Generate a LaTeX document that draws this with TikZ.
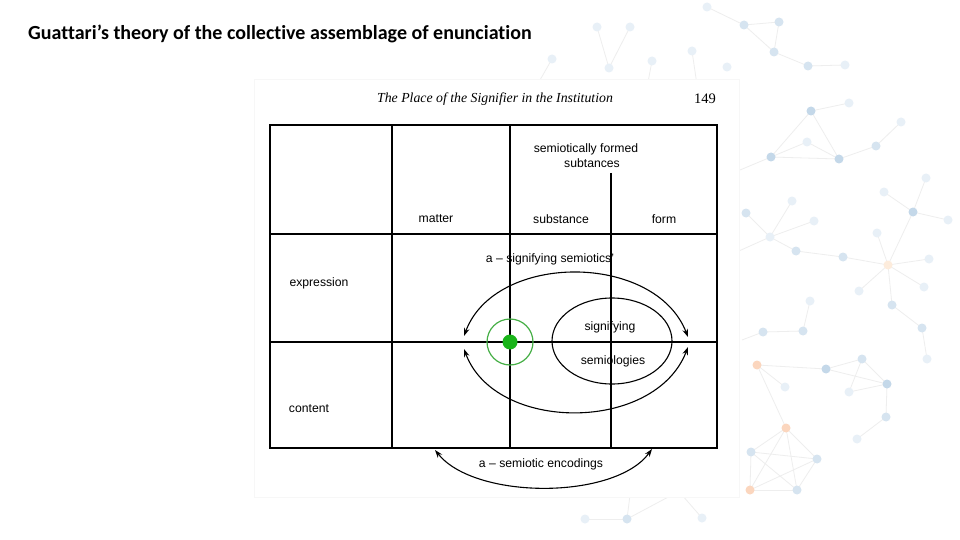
\documentclass[tikz,border=0pt]{standalone}
\usepackage{fontspec}
\setmainfont{Liberation Sans}
\newfontfamily\titlefont[Ligatures={NoCommon}]{Carlito}
\newfontfamily\bookfont{Liberation Serif}
\usetikzlibrary{arrows.meta}
\definecolor{nl1}{RGB}{232,240,247}
\definecolor{nl2}{RGB}{214,228,240}
\definecolor{nl3}{RGB}{196,216,233}
\definecolor{no1}{RGB}{253,236,220}
\definecolor{no2}{RGB}{251,214,190}
\definecolor{nedge}{RGB}{238,238,238}
\definecolor{ringgreen}{RGB}{70,175,70}
\definecolor{dotgreen}{RGB}{25,180,25}
\tikzset{
  netdot/.style={circle, inner sep=0pt, minimum size=9pt, fill=#1},
  netedge/.style={draw=nedge, line width=0.8pt},
  grid/.style={line width=1.8pt, black},
  lbl/.style={inner sep=0pt, font=\fontsize{12.2}{13}\selectfont},
  arc/.style={line width=1.1pt, {Stealth[length=8pt,width=5.5pt]}-{Stealth[length=8pt,width=5.5pt]}},
}
\begin{document}
\begin{tikzpicture}[x=1pt,y=-1pt]
\useasboundingbox (0,0) rectangle (960,540);
\fill[white] (0,0) rectangle (960,540);
% background network
\foreach \n/\x/\y/\c in {
 a1/744/25/nl2, a2/779/22/nl2, a3/774/52/nl2, a4/808/66/nl2, a5/845/65/nl1,
 b1/811/111/nl3, b2/849/103/nl1, b3/807/142/nl1, b4/771/157/nl3, b5/839/159/nl3, b6/876/146/nl2, b7/901/122/nl1,
 c1/926/178/nl1, c2/884/192/nl1, c3/913/212/nl3, c4/948/220/nl1, c5/888/265/no1, c6/877/233/nl1, c7/929/259/nl1,
 d1/792/201/nl1, d2/746/213/nl2, d3/814/221/nl1, d4/770/237/nl1, d5/796/251/nl2, d6/843/257/nl2,
 e1/859/291/nl1, e2/924/287/nl1, e3/892/305/nl2, e4/922/328/nl2, e5/927/359/nl1,
 f1/810/301/nl1, f2/803/331/nl2, f3/763/332/nl2, f4/757/365/no2, f5/826/369/nl3, f6/862/359/nl2, f7/849/392/nl1, f8/887/384/nl3, f9/886/417/nl2, f10/857/439/nl1, f11/785/387/nl1,
 g1/786/428/no2, g2/751/452/nl2, g3/817/459/nl2, g4/750/490/no2, g5/797/490/nl2,
 t1/597/27/nl1, t2/630/27/nl1, t3/609/68/nl1, t4/552/59/nl1, t5/652/61/nl1, t6/692/51/nl1, t7/707/7/nl1, t8/727/67/nl1,
 h1/585/519/nl1, h2/627/519/nl2, h3/702/518/nl1}
 \coordinate (\n) at (\x,\y);
\coordinate (x1) at (740,170);
\coordinate (x2) at (730,255);
\coordinate (x3) at (742,340);
\coordinate (x4) at (540,80);
\coordinate (x5) at (648,82);
\coordinate (x6) at (697,85);
\coordinate (x7) at (630,495);
\coordinate (x8) at (672,495);
\coordinate (x9) at (682,495);
\foreach \p/\q in {a1/a2, a2/a3, a3/a1, a3/a4, a4/a5, t7/a1,
 b1/b2, b1/b4, b1/b5, b3/b4, b3/b5, b4/b5, b5/b6, b6/b7,
 c3/c1, c3/c2, c3/c4, c3/c5, c5/c6, c5/c7,
 d4/d1, d4/d2, d4/d3, d4/d5, d5/d6, d6/c5,
 c5/e1, c5/e2, c5/e3, e3/e4, e4/e5,
 f1/f2, f2/f3, f4/f5, f4/f11, f4/g1, f5/f6, f5/f8, f6/f7, f7/f8, f6/f8, f8/f9, f9/f10,
 g1/g2, g1/g3, g1/g4, g1/g5, g2/g3, g2/g4, g2/g5, g4/g3, g4/g5, g5/g3,
 t1/t3, t2/t3, h1/h2, b4/x1, d4/x2, f3/x3, t4/x4, t5/x5, t6/x6, h2/x7, h2/x8, h3/x9}
 \draw[netedge] (\p) -- (\q);
\foreach \n/\x/\y/\c in {
 a1/744/25/nl2, a2/779/22/nl2, a3/774/52/nl2, a4/808/66/nl2, a5/845/65/nl1,
 b1/811/111/nl3, b2/849/103/nl1, b3/807/142/nl1, b4/771/157/nl3, b5/839/159/nl3, b6/876/146/nl2, b7/901/122/nl1,
 c1/926/178/nl1, c2/884/192/nl1, c3/913/212/nl3, c4/948/220/nl1, c5/888/265/no1, c6/877/233/nl1, c7/929/259/nl1,
 d1/792/201/nl1, d2/746/213/nl2, d3/814/221/nl1, d4/770/237/nl1, d5/796/251/nl2, d6/843/257/nl2,
 e1/859/291/nl1, e2/924/287/nl1, e3/892/305/nl2, e4/922/328/nl2, e5/927/359/nl1,
 f1/810/301/nl1, f2/803/331/nl2, f3/763/332/nl2, f4/757/365/no2, f5/826/369/nl3, f6/862/359/nl2, f7/849/392/nl1, f8/887/384/nl3, f9/886/417/nl2, f10/857/439/nl1, f11/785/387/nl1,
 g1/786/428/no2, g2/751/452/nl2, g3/817/459/nl2, g4/750/490/no2, g5/797/490/nl2,
 t1/597/27/nl1, t2/630/27/nl1, t3/609/68/nl1, t4/552/59/nl1, t5/652/61/nl1, t6/692/51/nl1, t7/707/7/nl1, t8/727/67/nl1,
 h1/585/519/nl1, h2/627/519/nl2, h3/702/518/nl1}
 \node[netdot=\c] (dot-\n) at (\x,\y) {};
% scanned panel
\filldraw[fill=white, draw=black!3] (254,79) rectangle (739,497);
% title
\node[anchor=west, inner sep=0pt, font=\titlefont\bfseries\fontsize{20}{22}\selectfont] (title) at (28,34) {Guattari’s theory of the collective assemblage of enunciation};
% book header
\node[inner sep=0pt, font=\bookfont\itshape\fontsize{13.8}{15}\selectfont] (header) at (495,99) {The Place of the Signifier in the Institution};
\node[inner sep=0pt, font=\bookfont\fontsize{14.5}{15}\selectfont] (page) at (705,99) {149};
% table
\draw[grid] (270,125) rectangle (717,448);
\draw[grid] (270,234) -- (717,234);
\draw[grid] (270,342) -- (717,342);
\draw[grid] (392,125) -- (392,448);
\draw[grid] (510,125) -- (510,448);
\draw[grid] (611,173) -- (611,448);
% labels
\node[lbl] (sf1) at (586,149) {semiotically formed};
\node[lbl] (sf2) at (592,163) {subtances};
\node[lbl] (matter) at (436,219) {matter};
\node[lbl] (substance) at (561,219) {substance};
\node[lbl] (form) at (664,219) {form};
\node[lbl] (asig) at (550,259) {a -- signifying semiotics'};
\node[lbl] (expression) at (319,283) {expression};
\node[lbl] (signifying) at (610,327) {signifying};
\node[lbl] (semiologies) at (613,361) {semiologies};
\node[lbl] (content) at (309,409) {content};
\node[lbl] (aenc) at (541,464) {a -- semiotic encodings};
% inner ellipse
\draw[line width=1.1pt] (612,341) ellipse [x radius=60pt, y radius=43pt];
% green marker
\node[circle, draw=ringgreen, line width=1.2pt, minimum size=46pt, inner sep=0pt] (ring) at (510,342) {};
\node[circle, fill=dotgreen, minimum size=15pt, inner sep=0pt] (dot) at (510,342) {};
% arcs
\coordinate (ul) at (464,336);
\coordinate (ur) at (688,337);
\coordinate (ll) at (464,349);
\coordinate (lr) at (688,347);
\coordinate (bl) at (435,450);
\coordinate (br) at (652,449);
\draw[arc] (ul) .. controls (495,252) and (655,252) .. (ur);
\draw[arc] (ll) .. controls (495,433) and (655,433) .. (lr);
\draw[arc] (bl) .. controls (475,500) and (615,500) .. (br);
\end{tikzpicture}
\end{document}
